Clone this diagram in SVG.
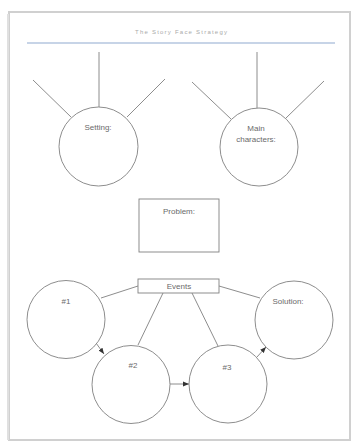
<svg xmlns="http://www.w3.org/2000/svg" width="354" height="444" viewBox="0 0 354 444">
<style>
.ln{stroke:#808080;stroke-width:0.9;fill:none}
.nd{stroke:#808080;stroke-width:0.9;fill:#fff}
.tx{font-family:"Liberation Sans",Arial,sans-serif;font-size:8px;fill:#6a6a6a;text-anchor:middle}
</style>
<defs>
<marker id="ah" viewBox="0 0 10 10" refX="10" refY="5" markerWidth="6" markerHeight="6" orient="auto" markerUnits="userSpaceOnUse">
<path d="M0,1 L10,5 L0,9 z" fill="#333"/>
</marker>
</defs>
<rect width="354" height="444" fill="#fff"/>
<g id="page">
<rect x="9" y="12" width="341" height="428" fill="#fff" stroke="#d0d0d0" stroke-width="2"/>
<line x1="8" y1="14" x2="8" y2="440" stroke="#e0e0e0" stroke-width="2"/>
<text x="181" y="34" style="font-family:'Liberation Sans',Arial,sans-serif;font-size:6px;fill:#aaa;text-anchor:middle" textLength="92">The Story Face Strategy</text>
<line x1="27" y1="43" x2="335" y2="43" stroke="#8fa9cf" stroke-width="1.2"/>
</g>
<g id="connectors">
<line class="ln" x1="99" y1="52" x2="99" y2="107"/>
<line class="ln" x1="33" y1="80" x2="71" y2="117"/>
<line class="ln" x1="165" y1="79" x2="127" y2="117"/>
<line class="ln" x1="257" y1="52" x2="257" y2="108"/>
<line class="ln" x1="192" y1="82" x2="231" y2="119"/>
<line class="ln" x1="324" y1="81" x2="286" y2="118"/>
<line class="ln" x1="138" y1="286" x2="101" y2="298"/>
<line class="ln" x1="163" y1="293" x2="138" y2="345"/>
<line class="ln" x1="192" y1="293" x2="218" y2="346"/>
<line class="ln" x1="219" y1="286" x2="260" y2="298"/>
<line class="ln" x1="96" y1="343" x2="104" y2="354" marker-end="url(#ah)"/>
<line class="ln" x1="170" y1="384" x2="189" y2="384" marker-end="url(#ah)"/>
<line class="ln" x1="257" y1="357" x2="266" y2="347" marker-end="url(#ah)"/>
</g>
<g id="setting">
<circle class="nd" cx="98.5" cy="146.5" r="39.5"/>
<text class="tx" x="98" y="130">Setting:</text>
</g>
<g id="main-characters">
<circle class="nd" cx="259" cy="147" r="39"/>
<text class="tx" x="256" y="131">Main</text>
<text class="tx" x="256" y="142">characters:</text>
</g>
<g id="problem">
<rect class="nd" x="139" y="199" width="80" height="53"/>
<text class="tx" x="179" y="214">Problem:</text>
</g>
<g id="events">
<rect class="nd" x="138" y="279" width="81" height="14"/>
<text class="tx" x="179" y="289">Events</text>
</g>
<g id="event1">
<circle class="nd" cx="66" cy="319.5" r="39"/>
<text class="tx" x="66" y="304">#1</text>
</g>
<g id="event2">
<circle class="nd" cx="131" cy="384.5" r="39"/>
<text class="tx" x="133" y="368">#2</text>
</g>
<g id="event3">
<circle class="nd" cx="228" cy="384" r="39"/>
<text class="tx" x="227" y="370">#3</text>
</g>
<g id="solution">
<circle class="nd" cx="294" cy="320" r="39"/>
<text class="tx" x="288" y="304">Solution:</text>
</g>
</svg>
